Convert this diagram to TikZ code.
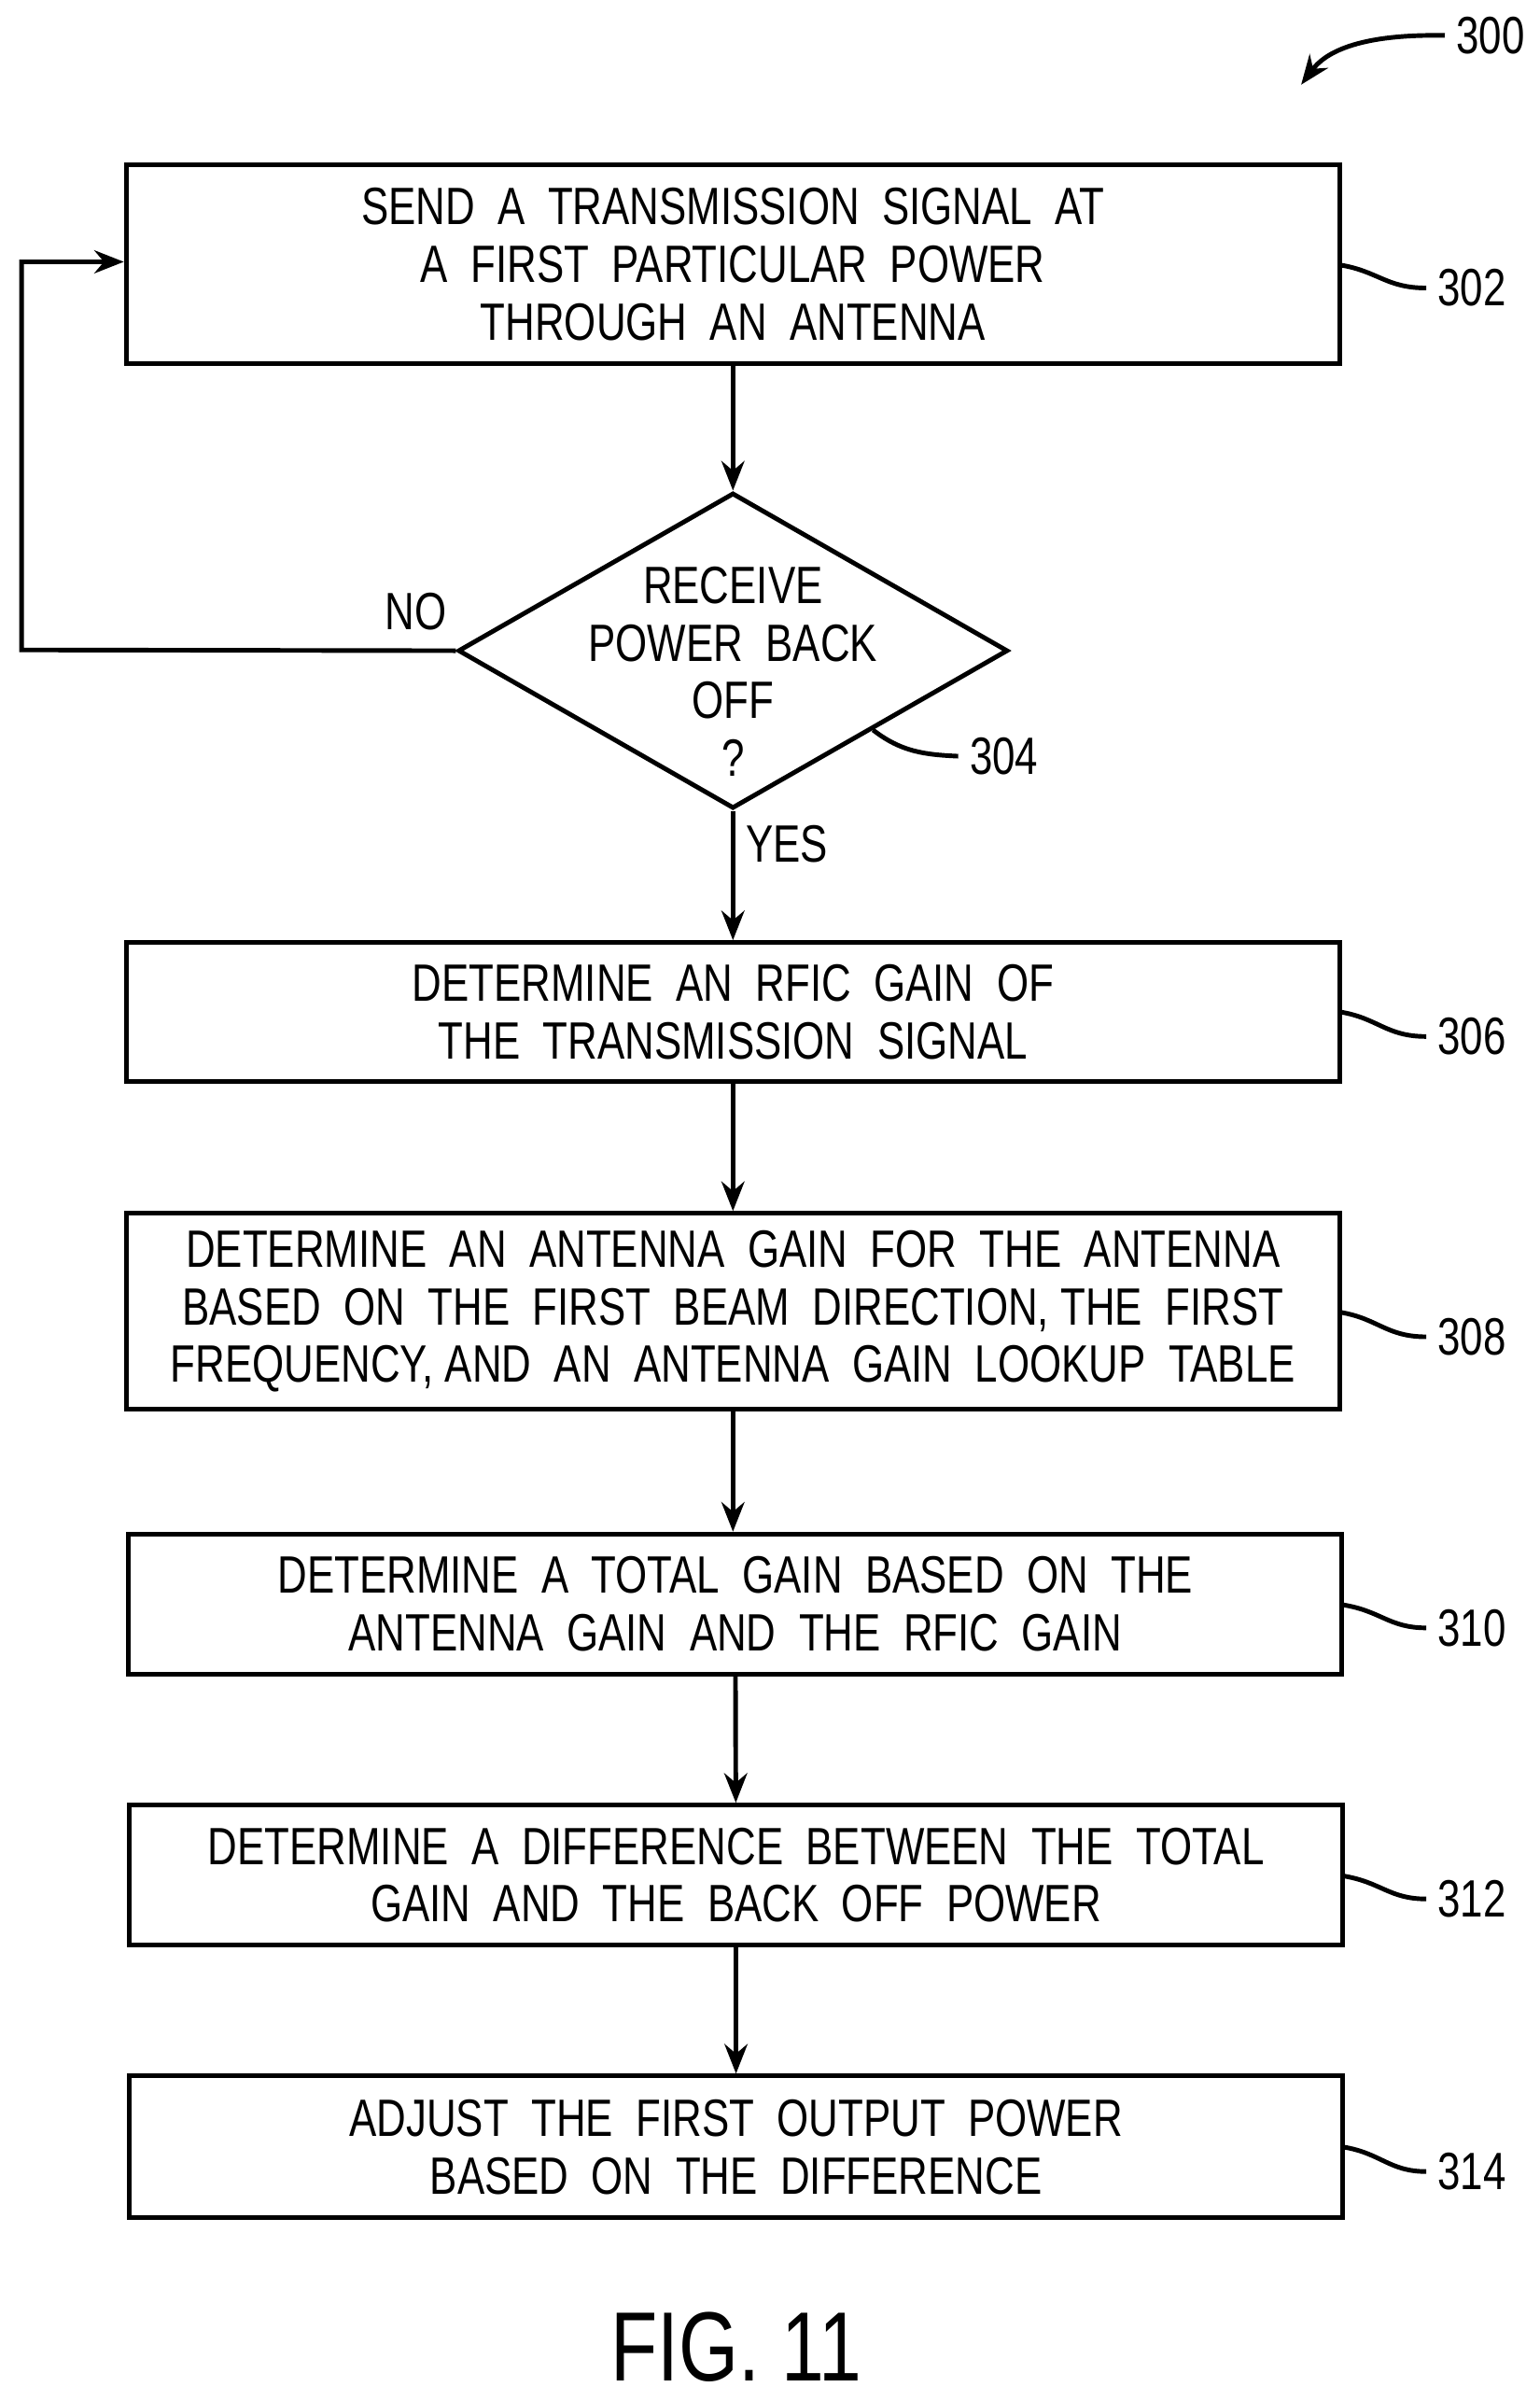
\documentclass[tikz,border=0pt]{standalone}
\usepackage{fontspec}
\setmainfont[FakeStretch=0.78]{Liberation Sans}
\usetikzlibrary{shapes.geometric,arrows.meta}
\begin{document}
\begin{tikzpicture}[x=0.0165cm,y=-0.0165cm,
  every node/.style={font=\fontsize{16}{17.6}\selectfont},
  box/.style={draw,line width=1.4pt,minimum width=13cm,align=center,inner sep=0pt},
  ln/.style={line width=1.4pt},
  arr/.style={ln,-{Stealth[length=9pt,width=7pt]}}]
\useasboundingbox (0,0) rectangle (1000,1559);
\node[box,minimum height=2.13cm] (b302) at (476,171.5) {SEND\ \ A\ \ TRANSMISSION\ \ SIGNAL\ \ AT\\A\ \ FIRST\ \ PARTICULAR\ \ POWER\\THROUGH\ \ AN\ \ ANTENNA};
\node[diamond,draw,line width=1.4pt,inner sep=0pt,minimum width=5.89cm,minimum height=3.38cm,aspect=1.74] (d304) at (476,422.5) {};
\node[align=center] (t304) at (476,436) {RECEIVE\\POWER\ \ BACK\\OFF\\?};
\node[box,minimum height=1.485cm] (b306) at (476,657) {DETERMINE\ \ AN\ \ RFIC\ \ GAIN\ \ OF\\THE\ \ TRANSMISSION\ \ SIGNAL};
\node[box,minimum height=2.1cm] (b308) at (476,851.5) {DETERMINE\ \ AN\ \ ANTENNA\ \ GAIN\ \ FOR\ \ THE\ \ ANTENNA\\BASED\ \ ON\ \ THE\ \ FIRST\ \ BEAM\ \ DIRECTION, THE\ \ FIRST\\FREQUENCY, AND\ \ AN\ \ ANTENNA\ \ GAIN\ \ LOOKUP\ \ TABLE};
\node[box,minimum height=1.5cm] (b310) at (477.5,1041.5) {DETERMINE\ \ A\ \ TOTAL\ \ GAIN\ \ BASED\ \ ON\ \ THE\\ANTENNA\ \ GAIN\ \ AND\ \ THE\ \ RFIC\ \ GAIN};
\node[box,minimum height=1.5cm] (b312) at (478,1217.5) {DETERMINE\ \ A\ \ DIFFERENCE\ \ BETWEEN\ \ THE\ \ TOTAL\\GAIN\ \ AND\ \ THE\ \ BACK\ \ OFF\ \ POWER};
\node[box,minimum height=1.52cm] (b314) at (478,1394) {ADJUST\ \ THE\ \ FIRST\ \ OUTPUT\ \ POWER\\BASED\ \ ON\ \ THE\ \ DIFFERENCE};
\draw[arr] (b302) -- (d304);
\draw[arr] (d304) -- (b306);
\draw[arr] (b306) -- (b308);
\draw[arr] (b308.south) -- (b308.south|-b310.north);
\draw[arr] (b310) -- (b312);
\draw[arr] (b312) -- (b314);
\coordinate (c1) at (14,422);
\coordinate (c2) at (14,170);
\draw[arr] (d304.west) -- (c1) -- (c2) -- (c2-|b302.west);
\node (no) at (270,397) {NO};
\node (yes) at (511,548) {YES};
\node (l300) at (968,23) {300};
\node (l302) at (956,187) {302};
\node (l304) at (652,491) {304};
\node (l306) at (956,673) {306};
\node (l308) at (956,868) {308};
\node (l310) at (956,1057) {310};
\node (l312) at (956,1233) {312};
\node (l314) at (956,1410) {314};
\draw[ln,-{Stealth[length=9pt,width=7pt]}] (l300.west) .. controls (880,22) and (860,35) .. (845,55);
\draw[ln] (870,172) .. controls (895,176) and (900,187) .. (l302.west);
\draw[ln] (567,474) .. controls (585,488) and (600,490) .. (l304.west);
\draw[ln] (870,657) .. controls (895,661) and (900,673) .. (l306.west);
\draw[ln] (870,852) .. controls (895,856) and (900,868) .. (l308.west);
\draw[ln] (872,1042) .. controls (897,1046) and (902,1057) .. (l310.west);
\draw[ln] (872,1218) .. controls (897,1222) and (902,1233) .. (l312.west);
\draw[ln] (872,1394) .. controls (897,1398) and (902,1410) .. (l314.west);
\node[font=\fontsize{30}{34}\selectfont] (fig) at (478,1524) {FIG. 11};
\end{tikzpicture}
\end{document}
